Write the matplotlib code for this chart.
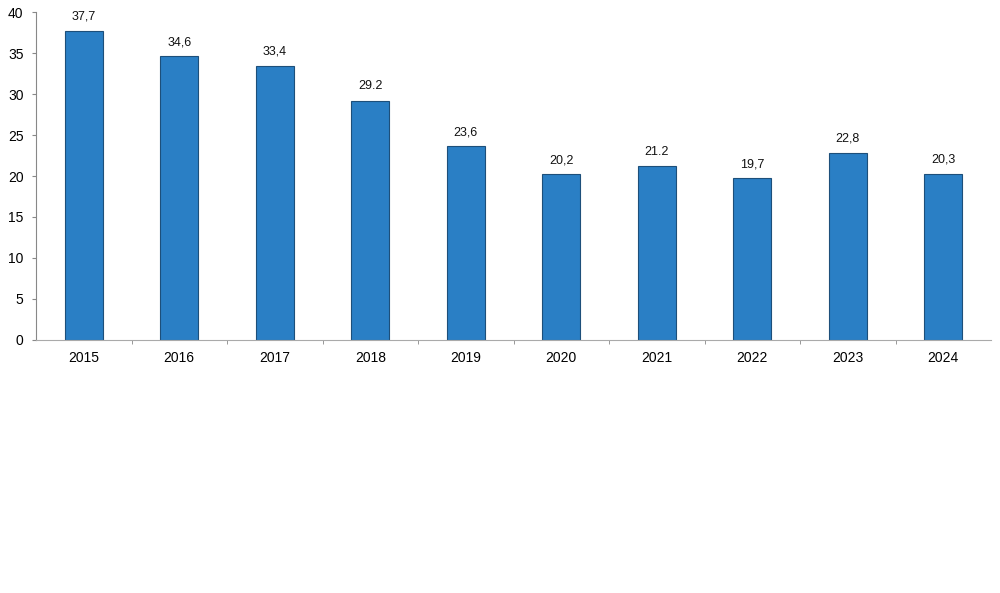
import numpy as np
import matplotlib.pyplot as plt

years = ["2015", "2016", "2017", "2018", "2019", "2020", "2021", "2022", "2023", "2024"]
values = [37.7, 34.6, 33.4, 29.2, 23.6, 20.2, 21.2, 19.7, 22.8, 20.3]
labels = ["37,7", "34,6", "33,4", "29.2", "23,6", "20,2", "21.2", "19,7", "22,8", "20,3"]

plt.rcParams['font.family'] = ['Liberation Sans', 'DejaVu Sans']

fig = plt.figure(figsize=(10, 5.93), dpi=100)
ax = fig.add_axes([0.036, 0.4267, 0.955, 0.553])

x = np.arange(len(years))
bars = ax.bar(x, values, width=0.4, color='#2a7fc5', edgecolor='#1d4f7a', linewidth=0.8)

for xi, v, lab in zip(x, values, labels):
    ax.text(xi, v + 1.0, lab, ha='center', va='bottom', fontsize=9, color='#111111')

ax.set_xlim(-0.5, len(years) - 0.5)
ax.set_ylim(0, 40)
ax.set_yticks(range(0, 41, 5))
ax.tick_params(axis='y', labelsize=10, length=3, color='#888888', pad=6)

ax.set_xticks(x)
ax.set_xticklabels(years, fontsize=10)
ax.tick_params(axis='x', length=0, pad=8)
ax.set_xticks(np.arange(0.5, len(years) - 0.5), minor=True)
ax.tick_params(axis='x', which='minor', length=3, color='#888888')

for s in ['top', 'right']:
    ax.spines[s].set_visible(False)
ax.spines['left'].set_color('#888888')
ax.spines['bottom'].set_color('#aaaaaa')

fig.savefig('out.png', dpi=100)
